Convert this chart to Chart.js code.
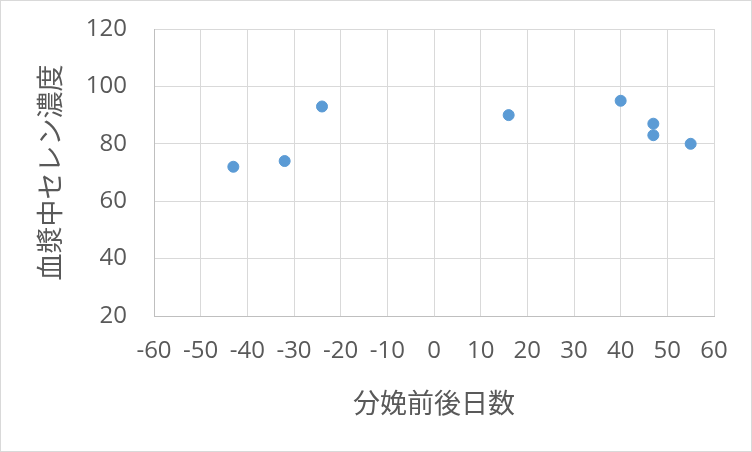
<!DOCTYPE html>
<html>
<head>
<meta charset="utf-8">
<script src="https://cdn.jsdelivr.net/npm/chart.js@4/dist/chart.umd.min.js"></script>
<style>
  body { margin: 0; background: #fff; }
</style>
</head>
<body>
<canvas id="scatter-chart" width="752" height="452"></canvas>
<script>
// days relative to calving vs plasma selenium
var days = [-43, -32, -24, 16, 40, 47, 47, 55];
var selenium = [72, 74, 93, 90, 95, 87, 83, 80];
var xTitle = '分娩前後日数';
var yTitle = '血漿中セレン濃度';

var points = days.map(function (d, i) { return { x: d, y: selenium[i] }; });

var frame = {
    id: 'frame',
    beforeDraw: function (chart) {
        var c = chart.ctx;
        c.save();
        c.fillStyle = '#fff';
        c.fillRect(0, 0, chart.width, chart.height);
        c.strokeStyle = '#d9d9d9';
        c.lineWidth = 1;
        c.strokeRect(0.5, 0.5, chart.width - 1, chart.height - 1);
        c.restore();
    }
};

var tickFont = { family: "'Open Sans', 'Noto Sans', sans-serif", size: 24 };
var titleFont = { family: "'Noto Sans CJK JP', sans-serif", size: 27 };

var ctx = document.getElementById('scatter-chart').getContext('2d');
var myChart = new Chart(ctx, {
    type: 'scatter',
    data: {
        datasets: [{
            data: points,
            backgroundColor: '#5b9bd5',
            borderColor: '#5b9bd5',
            pointRadius: 5.5,
            pointHoverRadius: 5.5
        }]
    },
    options: {
        responsive: false,
        animation: false,
        layout: { padding: { left: 1, right: 38, top: 29, bottom: 1 } },
        plugins: {
            legend: { display: false },
            tooltip: { enabled: false }
        },
        scales: {
            x: {
                type: 'linear',
                min: -60,
                max: 60,
                ticks: { stepSize: 10, color: '#595959', font: tickFont, padding: 21, maxRotation: 0 },
                grid: { color: '#d9d9d9', drawTicks: false },
                border: { color: '#bfbfbf' },
                title: { display: true, text: xTitle, color: '#595959', font: titleFont, padding: { top: 0, bottom: 32 } },
                afterFit: function (scale) { scale.height = 135; }
            },
            y: {
                min: 20,
                max: 120,
                ticks: { stepSize: 20, color: '#595959', font: tickFont, padding: 27 },
                grid: { color: '#d9d9d9', drawTicks: false },
                border: { color: '#bfbfbf' },
                title: { display: true, text: yTitle, color: '#595959', font: titleFont, padding: { top: 33, bottom: 0 } },
                afterFit: function (scale) {
                    scale.width = 153;
                    // keep the top tick label from pushing the plot down
                    scale.paddingTop = 0;
                }
            }
        }
    },
    plugins: [frame]
});
</script>
</body>
</html>
